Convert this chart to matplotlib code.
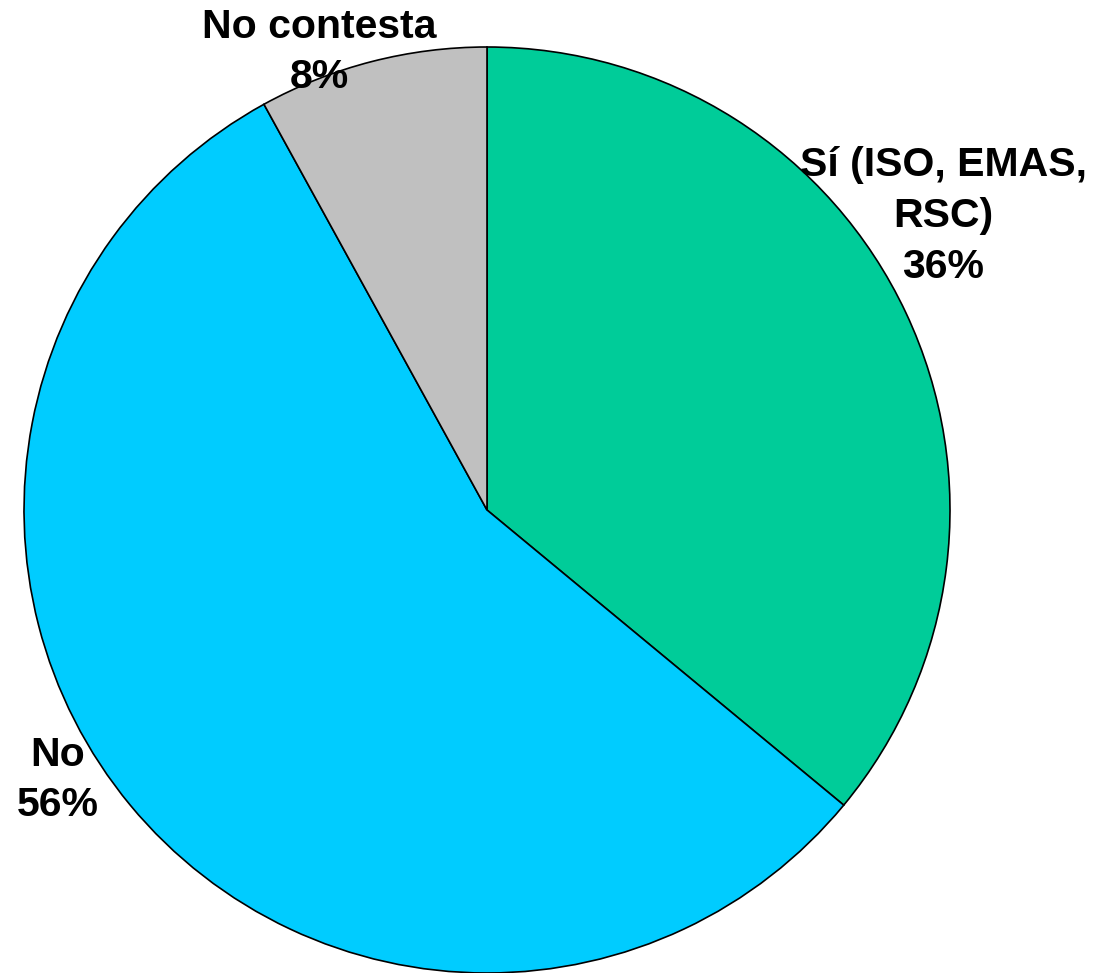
import matplotlib
matplotlib.use('Agg')
import matplotlib.pyplot as plt

# datos de la encuesta
labels = ['Sí (ISO, EMAS,\nRSC)', 'No', 'No contesta']
values = [36, 56, 8]
colors = ['#00CC99', '#00CCFF', '#C0C0C0']

plt.rcParams['font.family'] = ['Liberation Sans', 'DejaVu Sans']

fig = plt.figure(figsize=(10.95, 9.73), dpi=100)
ax = fig.add_axes([0, 0, 1, 1])

# coordenadas en pixeles (y hacia arriba)
cx, cy, r = 487, 973 - 510, 463
ax.pie(values, colors=colors, startangle=90, counterclock=False,
       center=(cx, cy), radius=r,
       wedgeprops=dict(edgecolor='black', linewidth=1.2))

label_pos = [(943, 973 - 216), (58, 973 - 780), (319, 973 - 52)]
for lab, v, (x, y) in zip(labels, values, label_pos):
    ax.text(x, y, f'{lab}\n{v}%', ha='center', va='center', ma='center',
            fontsize=29.5, fontweight='bold', linespacing=1.42)

ax.set_xlim(0, 1095)
ax.set_ylim(0, 973)
ax.set_aspect('equal')
ax.axis('off')

fig.savefig('out.png', dpi=100)
